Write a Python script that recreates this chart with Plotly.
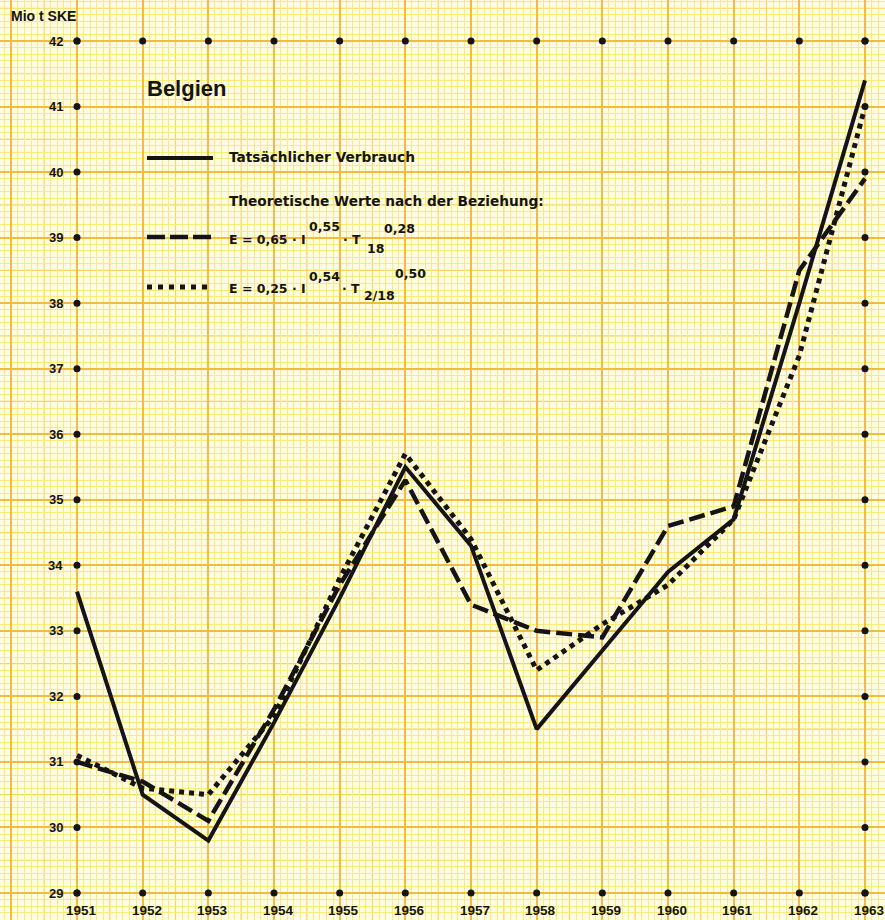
import plotly.graph_objects as go

# Energy consumption in Belgium, Mio t SKE
years = list(range(1951, 1964))
verbrauch = [33.6, 30.5, 29.8, 31.6, 33.5, 35.5, 34.3, 31.5, 32.7, 33.9, 34.7, 38.0, 41.4]
theorie_t18 = [31.0, 30.7, 30.1, 31.8, 33.7, 35.3, 33.4, 33.0, 32.9, 34.6, 34.9, 38.5, 39.9]
theorie_t218 = [31.1, 30.6, 30.5, 31.7, 33.8, 35.7, 34.4, 32.4, 33.1, 33.7, 34.7, 37.2, 41.0]

y_ticks = list(range(29, 43))
x_tick_labels = [str(y) for y in years]

W, H = 885, 920
X_RANGE = [1949.8274, 1963.3046]
Y_RANGE = [28.588, 42.6256]

PAPER_BG = "rgb(255,252,228)"
FINE = "rgb(250,236,122)"
HALF = "rgb(247,214,95)"
MAJOR = "rgb(242,188,62)"
INK = "#141414"
FONT = "Liberation Sans"
LEGEND_FONT = "DejaVu Sans"


def px(x, y):
    """pixel position -> paper coordinates"""
    return x / W, 1 - y / H


def fine_vals(lo, hi):
    vals = []
    i = int(lo * 10) - 1
    while i / 10 <= hi + 0.1:
        if i % 5 != 0:
            vals.append(round(i / 10, 1))
        i += 1
    return vals


fig = go.Figure()

# dots on the frame intersections
fx = years + years + [years[0]] * len(y_ticks) + [years[-1]] * len(y_ticks)
fy = [y_ticks[-1]] * len(years) + [y_ticks[0]] * len(years) + y_ticks + y_ticks
fig.add_trace(go.Scatter(x=fx, y=fy, mode="markers",
                         marker=dict(color=INK, size=7), hoverinfo="skip"))

fig.add_trace(go.Scatter(x=years, y=theorie_t18, mode="lines",
                         line=dict(color=INK, width=4.5, dash="16px,6px")))
fig.add_trace(go.Scatter(x=years, y=theorie_t218, mode="lines",
                         line=dict(color=INK, width=5, dash="5px,5px")))
fig.add_trace(go.Scatter(x=years, y=verbrauch, mode="lines",
                         line=dict(color=INK, width=4)))

# graph-paper half lines
shapes = []
v = 1949.5
while v < 1964:
    shapes.append(dict(type="line", xref="x", yref="paper", x0=v, x1=v, y0=0, y1=1,
                       line=dict(color=HALF, width=1.2), layer="below"))
    v += 1
v = 28.5
while v < 43:
    shapes.append(dict(type="line", xref="paper", yref="y", x0=0, x1=1, y0=v, y1=v,
                       line=dict(color=HALF, width=1.2), layer="below"))
    v += 1


# legend samples
def sample(y, dash, width):
    x0, y0 = px(147, y)
    x1, _ = px(213, y)
    return dict(type="line", xref="paper", yref="paper", x0=x0, x1=x1, y0=y0, y1=y0,
                line=dict(color=INK, width=width, dash=dash), layer="above")


shapes += [sample(158, "solid", 4), sample(237, "18px,5px", 4.5), sample(287, "5px,6px", 5)]

ann = []


def text(s, x, y, size, family=LEGEND_FONT):
    xp, yp = px(x, y)
    ann.append(dict(text=s, x=xp, y=yp, xref="paper", yref="paper", xanchor="left",
                    yanchor="middle", showarrow=False,
                    font=dict(family=family, size=size, color=INK, weight="bold")))


text("Mio t SKE", 9, 16, 14, FONT)
text("Belgien", 145, 88, 22, FONT)
text("Tatsächlicher Verbrauch", 227, 157, 13.7)
text("Theoretische Werte nach der Beziehung:", 227, 201, 13.7)
text("E = 0,65 · I", 227, 239, 12.5)
text("0,55", 307, 227, 12.5)
text("· T", 341, 239, 12.5)
text("18", 365, 249, 12.5)
text("0,28", 382, 228, 12.5)
text("E = 0,25 · I", 227, 288, 12.5)
text("0,54", 307, 276, 12.5)
text("· T", 340, 288, 12.5)
text("2/18", 362, 296, 12.5)
text("0,50", 393, 274, 12.5)

# axis labels placed next to the frame dots
for t in y_ticks:
    ann.append(dict(text=str(t), x=years[0], y=t, xref="x", yref="y", xanchor="right",
                    yanchor="middle", xshift=-12, showarrow=False,
                    font=dict(family=FONT, size=13, color=INK, weight="bold")))
for yr, lab in zip(years, x_tick_labels):
    ann.append(dict(text=lab, x=yr, y=y_ticks[0], xref="x", yref="y", xanchor="center",
                    yanchor="middle", yshift=-17, xshift=4, showarrow=False,
                    font=dict(family=FONT, size=13.5, color=INK, weight="bold")))

axis_common = dict(showline=False, zeroline=False, showticklabels=False, ticks="",
                   showgrid=True, gridcolor=MAJOR, gridwidth=1.6, dtick=1)
fig.update_layout(
    width=W, height=H, margin=dict(l=0, r=0, t=0, b=0),
    paper_bgcolor=PAPER_BG, plot_bgcolor=PAPER_BG, showlegend=False,
    xaxis=dict(range=X_RANGE, tick0=1951, fixedrange=True,
               minor=dict(tickmode="array", tickvals=fine_vals(*X_RANGE),
                          showgrid=True, gridcolor=FINE, gridwidth=1), **axis_common),
    yaxis=dict(range=Y_RANGE, tick0=29, fixedrange=True,
               minor=dict(tickmode="array", tickvals=fine_vals(*Y_RANGE),
                          showgrid=True, gridcolor=FINE, gridwidth=1), **axis_common),
    shapes=shapes, annotations=ann,
)

fig.write_html("out.html")
